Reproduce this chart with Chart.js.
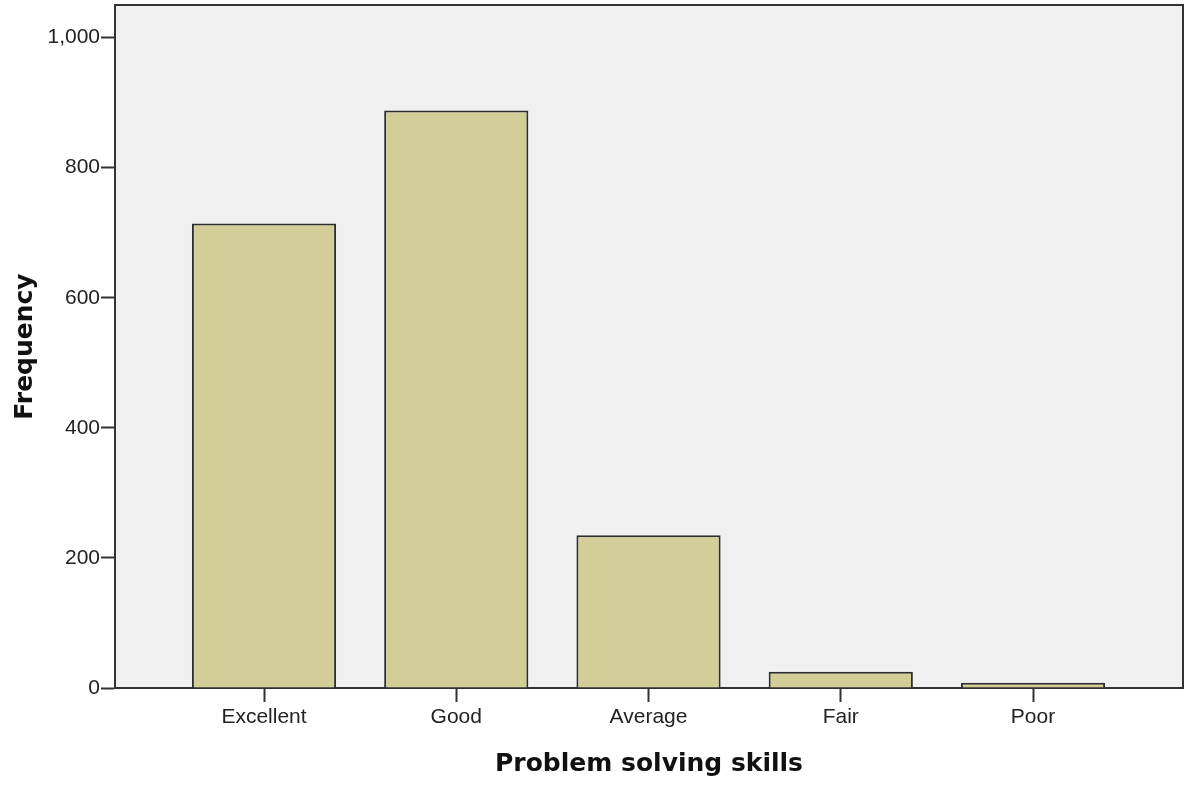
<!DOCTYPE html>
<html>
<head>
<meta charset="utf-8">
<script src="https://cdn.jsdelivr.net/npm/chart.js@4"></script>
<style>
  body { margin: 0; background: #fff; }
  #wrap { width: 1186px; height: 786px; }
</style>
</head>
<body>
<div id="wrap"><canvas id="chart"></canvas></div>
<script>
const categories = ['Excellent', 'Good', 'Average', 'Fair', 'Poor'];
const frequency = [714, 888, 235, 25, 8];
const yTicks = [0, 200, 400, 600, 800, 1000];

const plotFrame = {
  id: 'plotFrame',
  beforeDraw(chart) {
    const { ctx, chartArea: a } = chart;
    ctx.save();
    ctx.fillStyle = '#f0f0f0';
    ctx.fillRect(a.left, a.top, a.right - a.left, a.bottom - a.top);
    ctx.restore();
  },
  afterDraw(chart) {
    const { ctx, chartArea: a } = chart;
    ctx.save();
    ctx.strokeStyle = '#333';
    ctx.lineWidth = 2;
    ctx.beginPath();
    ctx.moveTo(a.left, a.top);
    ctx.lineTo(a.right, a.top);
    ctx.lineTo(a.right, a.bottom);
    ctx.stroke();
    ctx.restore();
  }
};

const tickFont = { family: '"Liberation Sans", Arial, sans-serif', size: 21 };
const titleFont = { family: '"DejaVu Sans", sans-serif', size: 25, weight: 'bold', lineHeight: 1.2 };

// drop the label overflow padding chart.js adds, so the frame sits where it should
function noPad(s) {
  s.paddingTop = 0; s.paddingBottom = 0; s.paddingLeft = 0; s.paddingRight = 0;
}

new Chart(document.getElementById('chart').getContext('2d'), {
  type: 'bar',
  data: {
    datasets: [{
      data: frequency.map((v, i) => ({ x: i + 1, y: v })),
      backgroundColor: '#d3ce98',
      borderColor: '#2e2e2e',
      borderWidth: 2,
      categoryPercentage: 1,
      barPercentage: 0.75
    }]
  },
  options: {
    responsive: true,
    maintainAspectRatio: false,
    animation: false,
    layout: { padding: { top: 5, right: 3, left: 0, bottom: 0 } },
    plugins: { legend: { display: false }, tooltip: { enabled: false } },
    scales: {
      x: {
        type: 'linear',
        min: 0.225,
        max: 5.78,
        offset: false,
        grid: { display: true, offset: false, drawOnChartArea: false, tickLength: 14, tickColor: '#333', tickWidth: 2 },
        border: { display: true, color: '#333', width: 2 },
        afterBuildTicks: s => { s.ticks = categories.map((c, i) => ({ value: i + 1 })); },
        afterFit: s => { s.height = 98; noPad(s); },
        ticks: {
          color: '#222',
          font: tickFont,
          padding: 3,
          maxRotation: 0,
          callback: v => categories[v - 1]
        },
        title: {
          display: true,
          text: 'Problem solving skills',
          color: '#111',
          font: titleFont,
          padding: { top: 0, bottom: 7 }
        }
      },
      y: {
        min: 0,
        max: 1050,
        grid: { display: true, drawOnChartArea: false, tickLength: 14, tickColor: '#333', tickWidth: 2 },
        border: { display: true, color: '#333', width: 2 },
        afterBuildTicks: s => { s.ticks = yTicks.map(v => ({ value: v })); },
        afterFit: s => { s.width = 115; noPad(s); },
        ticks: {
          color: '#222',
          font: tickFont,
          padding: 1,
          callback: v => v.toLocaleString('en-US')
        },
        title: {
          display: true,
          text: 'Frequency',
          color: '#111',
          font: titleFont,
          padding: { top: 10, bottom: 0 }
        }
      }
    }
  },
  plugins: [plotFrame]
});
</script>
</body>
</html>
